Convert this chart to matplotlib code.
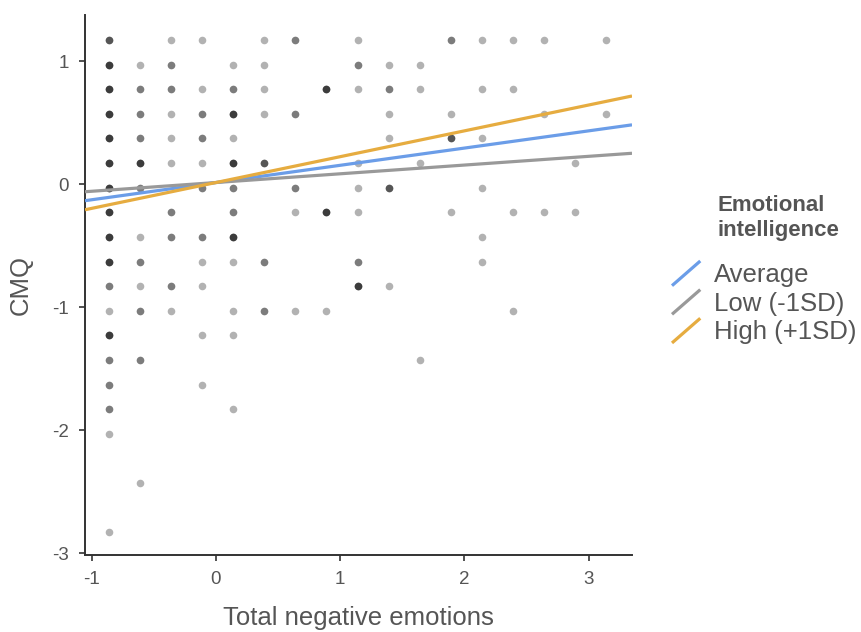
import numpy as np
import matplotlib
matplotlib.use("Agg")
import matplotlib.pyplot as plt
from matplotlib.lines import Line2D
from matplotlib.legend_handler import HandlerLine2D

plt.rcParams["font.family"] = ["Liberation Sans", "DejaVu Sans"]
plt.rcParams["axes.unicode_minus"] = False

# --- données : un point par observation (les points répétés se superposent) ---
# chaque ligne : niveau de CMQ, puis les valeurs d'émotions négatives et le nombre d'observations
rows_cmq = [1.17, 0.97, 0.77, 0.57, 0.37, 0.17, -0.03, -0.23, -0.43, -0.63,
            -0.83, -1.03, -1.23, -1.43, -1.63, -1.83, -2.03, -2.43, -2.83]
rows_neg = [
    [-0.86, -0.36, -0.11, 0.39, 0.64, 1.14, 1.89, 2.14, 2.39, 2.64, 3.14],
    [-0.86, -0.61, -0.36, 0.14, 0.39, 1.14, 1.39, 1.64],
    [-0.86, -0.61, -0.36, -0.11, 0.14, 0.39, 0.89, 1.14, 1.39, 1.64, 2.14, 2.39],
    [-0.86, -0.61, -0.36, -0.11, 0.14, 0.39, 0.64, 1.39, 1.89, 2.64, 3.14],
    [-0.86, -0.61, -0.36, -0.11, 0.14, 1.39, 1.89, 2.14],
    [-0.86, -0.61, -0.36, -0.11, 0.14, 0.39, 1.14, 1.64, 2.89],
    [-0.86, -0.61, -0.11, 0.14, 0.64, 1.14, 1.39, 2.14],
    [-0.86, -0.36, 0.14, 0.64, 0.89, 1.14, 1.89, 2.39, 2.64, 2.89],
    [-0.86, -0.61, -0.36, -0.11, 0.14, 2.14],
    [-0.86, -0.61, -0.11, 0.14, 0.39, 1.14, 2.14],
    [-0.86, -0.61, -0.36, -0.11, 1.14, 1.39],
    [-0.86, -0.61, -0.36, 0.14, 0.39, 0.64, 0.89, 2.39],
    [-0.86, -0.11, 0.14],
    [-0.86, -0.61, 1.64],
    [-0.86, -0.11],
    [-0.86, 0.14],
    [-0.86],
    [-0.61],
    [-0.86],
]
rows_count = [
    [3, 1, 1, 1, 2, 1, 2, 1, 1, 1, 1],
    [4, 1, 2, 1, 1, 2, 1, 1],
    [4, 2, 2, 1, 2, 1, 4, 1, 2, 1, 1, 1],
    [4, 2, 1, 2, 4, 1, 2, 1, 1, 1, 1],
    [4, 2, 1, 2, 1, 1, 3, 1],
    [4, 4, 1, 1, 4, 3, 1, 1, 1],
    [4, 2, 2, 2, 2, 1, 3, 1],
    [4, 2, 2, 1, 4, 1, 1, 1, 1, 1],
    [4, 1, 2, 2, 4, 1],
    [4, 2, 1, 1, 2, 2, 1],
    [2, 1, 2, 1, 4, 1],
    [1, 2, 1, 1, 2, 1, 1, 1],
    [4, 1, 1],
    [2, 2, 1],
    [2, 1],
    [2, 1],
    [1],
    [1],
    [1],
]

# droites de régression simples selon le niveau d'intelligence émotionnelle
groupes = ["Average", "Low (-1SD)", "High (+1SD)"]
intercepts = [0.012, 0.012, 0.012]
pentes = [0.140, 0.071, 0.210]
couleurs = ["#6B9DE8", "#999999", "#E6AC40"]
x_ligne = np.array([-1.054, 3.35])

x_pts, y_pts = [], []
for y, xs, ns in zip(rows_cmq, rows_neg, rows_count):
    for x, n in zip(xs, ns):
        x_pts += [x] * n
        y_pts += [y] * n


class DiagonalHandler(HandlerLine2D):
    def create_artists(self, legend, orig_handle, xdescent, ydescent,
                       width, height, fontsize, trans):
        line = Line2D([-xdescent, -xdescent + width],
                      [-ydescent, -ydescent + height])
        self.update_prop(line, orig_handle, legend)
        line.set_transform(trans)
        return [line]


fig = plt.figure(figsize=(8.62, 6.32), dpi=100)
ax = fig.add_axes([85 / 862, 77 / 632, 547 / 862, 540 / 632])

ax.scatter(x_pts, y_pts, s=30, color="black", alpha=0.3, linewidths=0, zorder=2)

handles = []
for nom, b0, b1, c in zip(groupes, intercepts, pentes, couleurs):
    h, = ax.plot(x_ligne, b0 + b1 * x_ligne, color=c, lw=2.3, label=nom, zorder=3,
                 solid_capstyle="butt")
    handles.append(h)

ax.set_xlim(-1.054, 3.35)
ax.set_ylim(-3.016, 1.374)
ax.set_xticks([-1, 0, 1, 2, 3])
ax.set_yticks([-3, -2, -1, 0, 1])
for s in ["top", "right"]:
    ax.spines[s].set_visible(False)
for s in ["left", "bottom"]:
    ax.spines[s].set_color("#333333")
    ax.spines[s].set_linewidth(1.4)
ax.tick_params(length=4.5, width=1.2, color="#333333", labelcolor="#555555",
               labelsize=13.5, pad=7)
ax.set_xlabel("Total negative emotions", fontsize=18.5, color="#555555", labelpad=13)
ax.set_ylabel("CMQ", fontsize=18.5, color="#555555", labelpad=14)

fig.text(718 / 862, 1 - 195 / 632, "Emotional\nintelligence", fontsize=16, fontweight="bold",
         color="#555555", va="top", ha="left", linespacing=1.25)
leg = fig.legend(handles=handles, loc="upper left", bbox_to_anchor=(672 / 862, 1 - 261 / 632),
                 frameon=False, fontsize=18.5, handlelength=1.1, handleheight=1.1,
                 handletextpad=0.55, labelspacing=0.1, borderpad=0, borderaxespad=0,
                 handler_map={Line2D: DiagonalHandler()})
for t in leg.get_texts():
    t.set_color("#555555")

plt.savefig("out.png", dpi=100)
